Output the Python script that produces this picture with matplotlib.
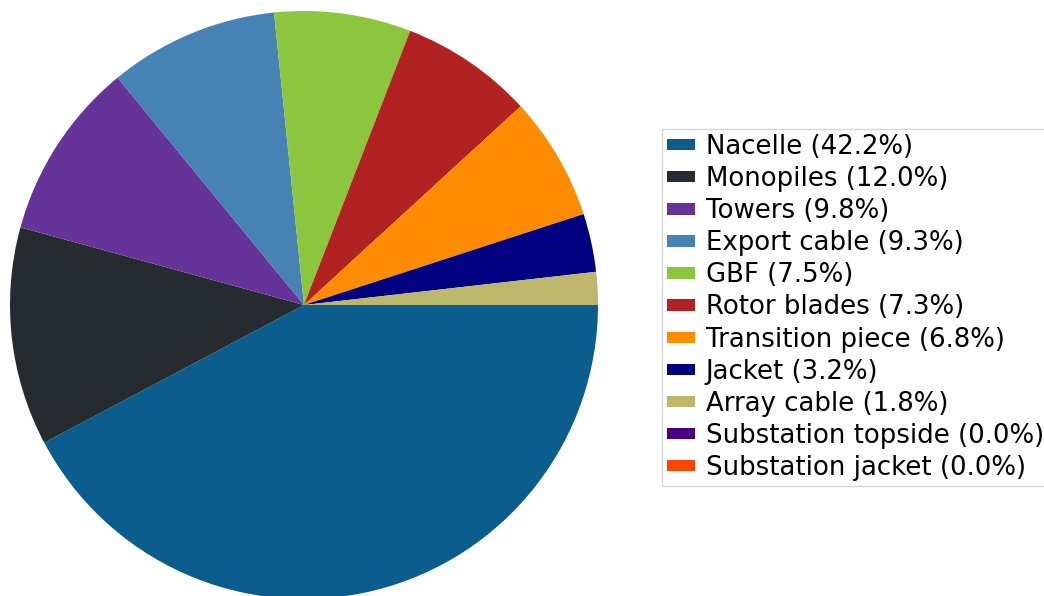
import matplotlib
matplotlib.use("Agg")
import matplotlib.pyplot as plt

# ── Data ─────────────────────────────────────────────────────────────────────
components = ["Nacelle", "Monopiles", "Towers", "Export cable", "GBF",
              "Rotor blades", "Transition piece", "Jacket", "Array cable",
              "Substation topside", "Substation jacket"]
shares = [42.2, 12.0, 9.8, 9.3, 7.5, 7.3, 6.8, 3.2, 1.8, 0.0, 0.0]
colors = ["#0b5d8e", "#262b2f", "#663399", "#4682b4", "#8cc63e",
          "#b22222", "#ff8c00", "#000080", "#bdb76b", "#4b0082", "#ff4500"]

labels = [f"{c} ({s:.1f}%)" for c, s in zip(components, shares)]

fig = plt.figure(figsize=(10.44, 5.96), dpi=100)
ax = fig.add_axes([10 / 1044, -3 / 596, 588 / 1044, 588 / 596])

wedges, _ = ax.pie(shares, colors=colors, startangle=0, counterclock=False,
                   radius=1.0)
ax.set_xlim(-1, 1)
ax.set_ylim(-1, 1)
ax.set_aspect("equal")

fig.legend(wedges, labels, loc="center left",
           bbox_to_anchor=(662 / 1044, 1 - 307.5 / 596),
           bbox_transform=fig.transFigure, borderaxespad=0,
           fontsize=18.7, handleheight=0.3, handlelength=1.1,
           handletextpad=0.4, labelspacing=0.235, borderpad=0.18,
           edgecolor="0.8", fancybox=False)

fig.savefig("out.png", dpi=100)
